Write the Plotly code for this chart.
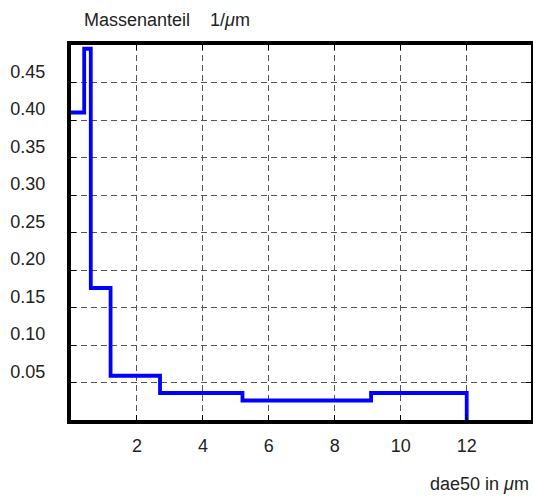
import plotly.graph_objects as go

# bin edges (dae50 in µm) and mass fraction per µm
bin_edges = [0.0, 0.4, 0.6, 1.2, 2.7, 5.2, 9.1, 12.0]
mass_fraction = [0.41, 0.495, 0.176, 0.059, 0.036, 0.026, 0.036]

x_ticks = [2, 4, 6, 8, 10, 12]
x_tick_text = ["2", "4", "6", "8", "10", "12"]
y_ticks = [0.05, 0.10, 0.15, 0.20, 0.25, 0.30, 0.35, 0.40, 0.45]
y_tick_text = ["0.05", "0.10", "0.15", "0.20", "0.25", "0.30", "0.35", "0.40", "0.45"]

xs = bin_edges[:-1] + [bin_edges[-1], bin_edges[-1]]
ys = mass_fraction + [mass_fraction[-1], 0.0]

FONT = "Liberation Sans, Arial, Helvetica, sans-serif"
TXT = "#222222"

fig = go.Figure()
fig.add_trace(go.Scatter(
    x=xs, y=ys, mode="lines", line=dict(color="#0000ff", width=3.8, shape="hv"),
    showlegend=False, hoverinfo="skip",
))

axis_common = dict(
    showline=True, linecolor="black", linewidth=4, mirror="allticks",
    ticks="inside", ticklen=5, tickcolor="black", tickwidth=1,
    showgrid=True, gridcolor="#555555", gridwidth=1, griddash="6px,4px",
    zeroline=False, automargin=False, tickfont=dict(family=FONT, size=18, color=TXT),
)

fig.update_xaxes(range=[0, 13.95], tickvals=x_ticks, ticktext=x_tick_text,
                 ticklabelstandoff=6, **axis_common)
fig.update_yaxes(range=[0, 0.5], tickvals=y_ticks, ticktext=y_tick_text,
                 ticklabelshift=-11, ticklabelstandoff=18, **axis_common)

fig.update_layout(
    width=533, height=496,
    margin=dict(l=71, r=2, t=45, b=76),
    paper_bgcolor="white", plot_bgcolor="white",
    font=dict(family=FONT, color=TXT),
    annotations=[
        dict(text="Massenanteil&nbsp;&nbsp;&nbsp;&nbsp;1/<i>μ</i>m", xref="paper", yref="paper",
             x=(82 - 71) / 460, y=1, yshift=25, xanchor="left", yanchor="middle",
             showarrow=False, font=dict(family=FONT, size=18, color=TXT)),
        dict(text="dae50 in <i>μ</i>m", xref="paper", yref="paper",
             x=1, y=0, yshift=-64, xanchor="right", yanchor="middle",
             showarrow=False, font=dict(family=FONT, size=18, color=TXT)),
    ],
)

fig.write_html("out.html", config={"displayModeBar": False},
               post_script="document.body.style.margin='0';")
